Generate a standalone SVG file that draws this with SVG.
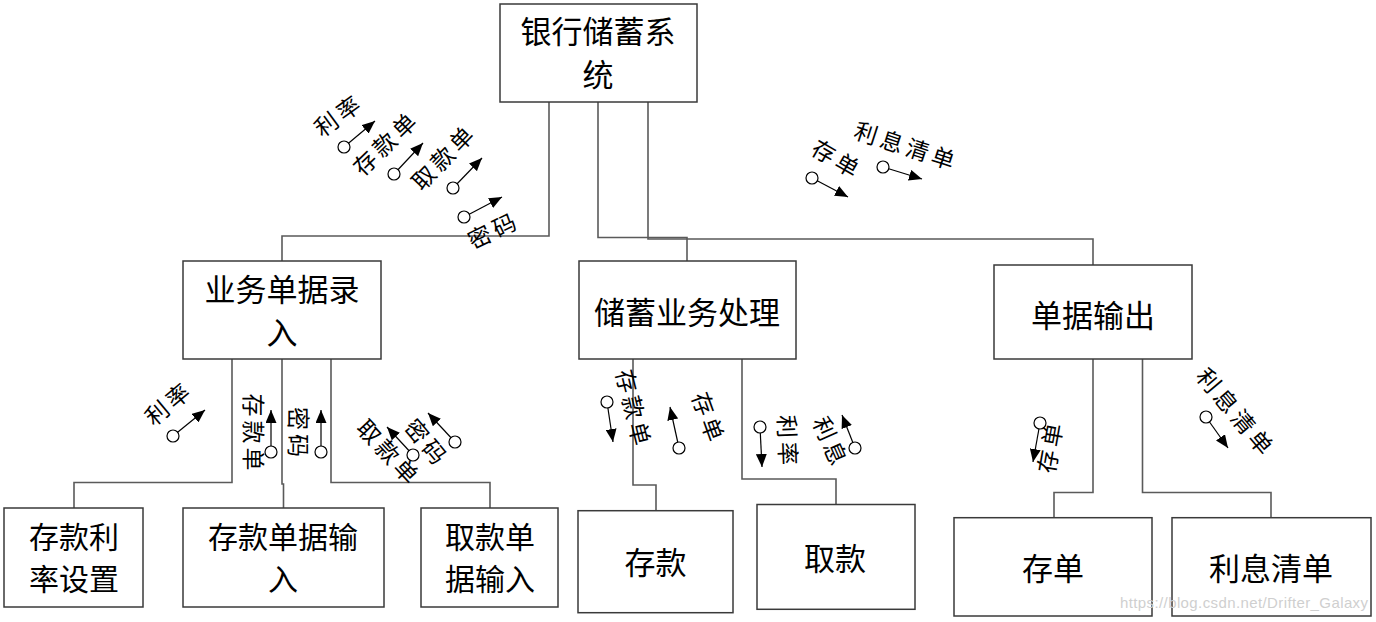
<svg xmlns="http://www.w3.org/2000/svg" width="1376" height="622" viewBox="0 0 1376 622">
<style>
.box{fill:#fff;stroke:#3a3a3a;stroke-width:1.5}
.con{fill:none;stroke:#5a5a5a;stroke-width:1.6}
.nt{font-family:"Noto Sans CJK SC","Noto Sans CJK JP",sans-serif;font-size:31px;fill:#000;text-anchor:middle;dominant-baseline:central}
.ns{font-size:30px}
.lb{font-family:"Noto Sans CJK SC","Noto Sans CJK JP",sans-serif;font-size:23px;fill:#000;text-anchor:middle;dominant-baseline:central;letter-spacing:4px}
.fl{stroke:#000;stroke-width:1.2;marker-end:url(#ah)}
.dot{fill:#fff;stroke:#000;stroke-width:1.2}
.wm{font-family:"Liberation Sans",Arial,sans-serif;font-size:15px;fill:#cfcfcf}
</style>
<defs>
<marker id="ah" markerUnits="userSpaceOnUse" markerWidth="13" markerHeight="11" refX="13" refY="5.5" orient="auto">
<path d="M0,0 L13,5.5 L0,11 z" fill="#000"/>
</marker>
</defs>
<rect width="1376" height="622" fill="#fff"/>
<g id="connectors">
<path class="con" d="M549,102 V236 H282 V261"/>
<path class="con" d="M598,102 V237.5 H687 V261"/>
<path class="con" d="M648,102 V239 H1093 V265"/>
<path class="con" d="M232,359 V482.5 H74 V508"/>
<path class="con" d="M282,359 V484 H283.5 V508"/>
<path class="con" d="M331,359 V482.5 H490 V508"/>
<path class="con" d="M633,359 V485 H656 V510.7"/>
<path class="con" d="M742,359 V479 H836 V504.5"/>
<path class="con" d="M1093,359 V492.5 H1054 V517.7"/>
<path class="con" d="M1142.5,359 V492.5 H1271 V517.7"/>
</g>
<g id="node-root"><rect class="box" x="500" y="4" width="197" height="98"/><text class="nt" x="598" y="29">银行储蓄系</text><text class="nt" x="598" y="72">统</text></g>
<g id="node-input"><rect class="box" x="183" y="261" width="198" height="98"/><text class="nt" x="282" y="287">业务单据录</text><text class="nt" x="282" y="330">入</text></g>
<g id="node-process"><rect class="box" x="579" y="261" width="217" height="98"/><text class="nt" x="687" y="310">储蓄业务处理</text></g>
<g id="node-output"><rect class="box" x="994" y="265" width="198" height="94"/><text class="nt" x="1093" y="313">单据输出</text></g>
<g id="node-rate"><rect class="box" x="4" y="508" width="139" height="99"/><text class="nt ns" x="74" y="535">存款利</text><text class="nt ns" x="74" y="577">率设置</text></g>
<g id="node-depin"><rect class="box" x="183" y="508" width="201" height="99"/><text class="nt ns" x="283" y="535">存款单据输</text><text class="nt ns" x="283" y="577">入</text></g>
<g id="node-wdin"><rect class="box" x="421" y="508" width="137" height="99"/><text class="nt ns" x="490" y="535">取款单</text><text class="nt ns" x="490" y="577">据输入</text></g>
<g id="node-deposit"><rect class="box" x="578" y="510.7" width="155" height="102"/><text class="nt" x="655.5" y="560">存款</text></g>
<g id="node-withdraw"><rect class="box" x="757" y="504.5" width="158" height="104.8"/><text class="nt" x="835" y="556">取款</text></g>
<g id="node-receipt"><rect class="box" x="954" y="517.7" width="198" height="98.3"/><text class="nt" x="1053" y="566">存单</text></g>
<g id="node-interest"><rect class="box" x="1172" y="517.7" width="199" height="98.3"/><text class="nt" x="1271" y="566">利息清单</text></g>
<g id="flows">
<line class="fl" x1="344" y1="147" x2="375" y2="121"/><circle class="dot" cx="344" cy="147" r="6"/>
<text class="lb" transform="translate(338,114) rotate(-36)">利率</text>
<line class="fl" x1="394" y1="174" x2="423" y2="143"/><circle class="dot" cx="394" cy="174" r="6"/>
<text class="lb" transform="translate(385,142) rotate(-44)">存款单</text>
<line class="fl" x1="453" y1="188" x2="482" y2="158"/><circle class="dot" cx="453" cy="188" r="6"/>
<text class="lb" transform="translate(443,156) rotate(-46)">取款单</text>
<line class="fl" x1="464" y1="217" x2="502" y2="197"/><circle class="dot" cx="464" cy="217" r="6"/>
<text class="lb" transform="translate(493,229) rotate(-26)">密码</text>

<line class="fl" x1="812" y1="178" x2="848" y2="197"/><circle class="dot" cx="812" cy="178" r="6"/>
<text class="lb" transform="translate(838,158) rotate(30)">存单</text>
<line class="fl" x1="883" y1="167" x2="922" y2="179"/><circle class="dot" cx="883" cy="167" r="6"/>
<text class="lb" transform="translate(907,145) rotate(18)">利息清单</text>

<line class="fl" x1="173" y1="436" x2="205" y2="410"/><circle class="dot" cx="173" cy="436" r="6"/>
<text class="lb" transform="translate(168,402) rotate(-40)">利率</text>
<line class="fl" x1="271" y1="452" x2="271" y2="410"/><circle class="dot" cx="271" cy="452" r="6"/>
<text class="lb" transform="translate(255,434) rotate(90)">存款单</text>
<line class="fl" x1="321" y1="452" x2="321" y2="410"/><circle class="dot" cx="321" cy="452" r="6"/>
<text class="lb" transform="translate(300,434) rotate(90)">密码</text>
<line class="fl" x1="413" y1="455" x2="387" y2="427"/><circle class="dot" cx="413" cy="455" r="6"/>
<text class="lb" transform="translate(390,452) rotate(47)">取款单</text>
<line class="fl" x1="455" y1="442" x2="428" y2="413"/><circle class="dot" cx="455" cy="442" r="6"/>
<text class="lb" transform="translate(428,442) rotate(50)">密码</text>

<line class="fl" x1="607" y1="402" x2="613" y2="442"/><circle class="dot" cx="607" cy="402" r="6"/>
<text class="lb" transform="translate(635,409) rotate(76)">存款单</text>
<line class="fl" x1="679" y1="448" x2="670" y2="407"/><circle class="dot" cx="679" cy="448" r="6"/>
<text class="lb" transform="translate(710,418) rotate(70)">存单</text>
<line class="fl" x1="760" y1="427" x2="762" y2="467"/><circle class="dot" cx="760" cy="427" r="6"/>
<text class="lb" transform="translate(789,442) rotate(88)">利率</text>
<line class="fl" x1="855" y1="448" x2="842" y2="415"/><circle class="dot" cx="855" cy="448" r="6"/>
<text class="lb" transform="translate(832,442) rotate(66)">利息</text>

<line class="fl" x1="1040" y1="423" x2="1033" y2="462"/><circle class="dot" cx="1040" cy="423" r="6"/>
<text class="lb" transform="translate(1049,446) rotate(-80)">存单</text>
<line class="fl" x1="1206" y1="417" x2="1228" y2="448"/><circle class="dot" cx="1206" cy="417" r="6"/>
<text class="lb" transform="translate(1237,412) rotate(50)">利息清单</text>
</g>
<text class="wm" x="1120" y="608" textLength="248">https://blog.csdn.net/Drifter_Galaxy</text>
</svg>
